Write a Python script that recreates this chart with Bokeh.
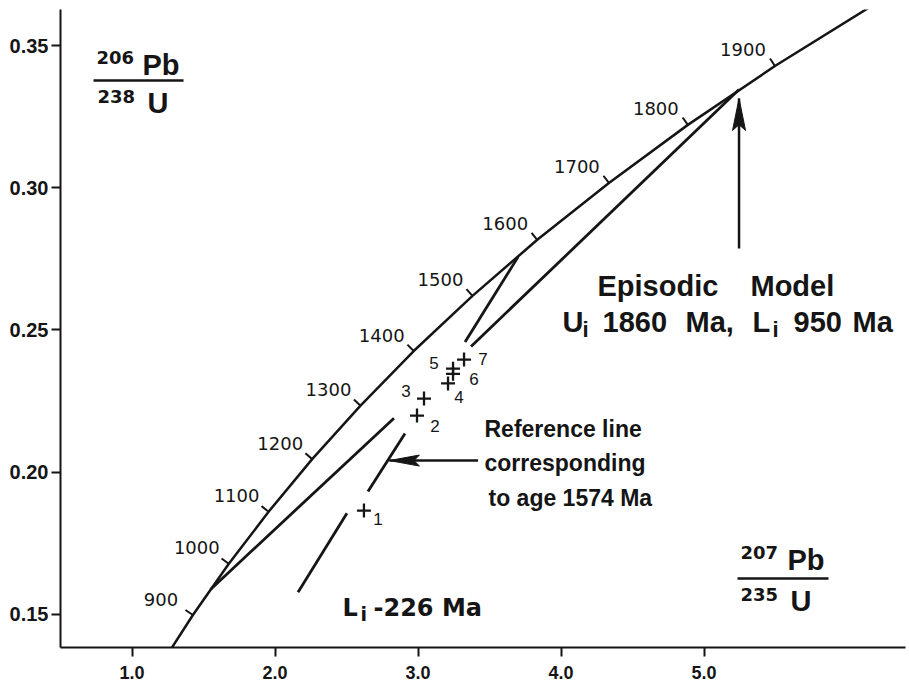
import math
from bokeh.plotting import figure
from bokeh.models import Range1d, FixedTicker, PrintfTickFormatter, Label
from bokeh.core.properties import value
from bokeh.embed import file_html
from bokeh.resources import INLINE

# ---------------- data ----------------
# concordia curve (age in Ma, 207Pb/235U, 206Pb/238U)
conc_age = [800, 900, 1000, 1100, 1200, 1300, 1400, 1500, 1600, 1700, 1800, 1900, 2000]
conc_x = [1.199, 1.426, 1.677, 1.955, 2.260, 2.598, 2.970, 3.381, 3.834, 4.335, 4.887, 5.496, 6.169]
conc_y = [0.1321, 0.1498, 0.1678, 0.1861, 0.2046, 0.2234, 0.2426, 0.2620, 0.2817, 0.3017, 0.3221, 0.3428, 0.3638]
tick_ages = [900, 1000, 1100, 1200, 1300, 1400, 1500, 1600, 1700, 1800, 1900]

# samples
sample_id = ["1", "2", "3", "4", "5", "6", "7"]
sample_x = [2.622, 2.993, 3.042, 3.210, 3.245, 3.245, 3.322]
sample_y = [0.1865, 0.2199, 0.2259, 0.2312, 0.2364, 0.2346, 0.2396]

# episodic model discordia (Ui 1860 Ma, Li 950 Ma), drawn in two pieces
episodic_x0 = [1.549, 3.371]
episodic_y0 = [0.1588, 0.2442]
episodic_x1 = [2.832, 5.245]
episodic_y1 = [0.2190, 0.3345]

# reference line for 1574 Ma, two pieces
reference_x0 = [2.650, 3.329]
reference_y0 = [0.1932, 0.2458]
reference_x1 = [2.909, 3.700]
reference_y1 = [0.2136, 0.2757]

# Li -226 Ma line piece
li226_x = [2.161, 2.503]
li226_y = [0.1578, 0.1856]

# arrows: (tail, tip)
arrow_tail_x = [3.42, 5.245]
arrow_tail_y = [0.2041, 0.2786]
arrow_tip_x = [2.80, 5.245]
arrow_tip_y = [0.2041, 0.3314]

x_ticks = [1, 2, 3, 4, 5]
y_ticks = [0.15, 0.20, 0.25, 0.30, 0.35]

# ---------------- figure ----------------
FW, FH = 845, 638
X0 = 0.5
X1 = X0 + FW / 143.0
Y0, Y1 = 0.13838, 0.36266
SX = FW / (X1 - X0)
SY = FH / (Y1 - Y0)
INK = "#151515"
FONT = "Liberation Sans"
WIDE = "DejaVu Sans"

p = figure(frame_width=FW, frame_height=FH, x_range=Range1d(X0, X1), y_range=Range1d(Y0, Y1),
           output_backend="svg", toolbar_location=None,
           min_border_left=60, min_border_right=4, min_border_top=9, min_border_bottom=41)
p.outline_line_color = None
p.grid.visible = False
p.background_fill_color = "white"
p.border_fill_color = "white"

for ax, ticks, fmt in ((p.xaxis[0], x_ticks, "%.1f"), (p.yaxis[0], y_ticks, "%.2f")):
    ax.ticker = FixedTicker(ticks=ticks)
    ax.formatter = PrintfTickFormatter(format=fmt)
    ax.axis_line_width = 2
    ax.axis_line_color = INK
    ax.major_tick_line_width = 2
    ax.major_tick_line_color = INK
    ax.major_tick_in = 0
    ax.major_tick_out = 9
    ax.minor_tick_line_color = None
    ax.major_label_text_font = FONT
    ax.major_label_text_font_style = "bold"
    ax.major_label_text_color = INK
p.xaxis.major_label_text_font_size = "18px"
p.yaxis.major_label_text_font_size = "20px"
p.xaxis.major_label_standoff = 9
p.yaxis.major_label_standoff = 3

# concordia
p.line(conc_x, conc_y, line_width=2.5, line_color=INK)

# concordia age ticks and labels
tx, ty, ang = [], [], []
for a in tick_ages:
    i = conc_age.index(a)
    dx = (conc_x[i + 1] - conc_x[i - 1]) * SX
    dy = (conc_y[i + 1] - conc_y[i - 1]) * SY
    tx.append(conc_x[i]); ty.append(conc_y[i])
    ang.append(math.atan2(dy, dx) + math.pi / 2)
p.ray(x=tx, y=ty, length=9, length_units="screen", angle=ang, line_width=2, line_color=INK)
p.text(x=tx, y=ty, text=[str(a) for a in tick_ages], x_offset=-32, y_offset=-16,
       text_align="center", text_baseline="middle", text_font=value(WIDE),
       text_font_size="18px", text_color=INK)

# discordia pieces
p.segment(episodic_x0, episodic_y0, episodic_x1, episodic_y1, line_width=2.8, line_color=INK)
p.segment(reference_x0, reference_y0, reference_x1, reference_y1, line_width=2.8, line_color=INK)
p.line(li226_x, li226_y, line_width=2.8, line_color=INK)

# sample crosses and numbers
p.scatter(sample_x, sample_y, marker="cross", size=14, line_width=2.3, line_color=INK)
lab_dx = [14, 18, -18, 11, -19, 21, 19]
lab_dy = [8, 10, -8, 14, -6, 5, -1]
p.text(x=sample_x, y=sample_y, text=sample_id, x_offset=lab_dx, y_offset=lab_dy,
       text_align="center", text_baseline="middle", text_font=value(FONT),
       text_font_size="17px", text_color=INK)

# arrows
p.segment(arrow_tail_x, arrow_tail_y, arrow_tip_x, arrow_tip_y, line_width=2.5, line_color=INK)
head_len = [30, 32]
head_half = [5.5, 6.5]
for k in range(2):
    ux = (arrow_tip_x[k] - arrow_tail_x[k]) * SX
    uy = (arrow_tip_y[k] - arrow_tail_y[k]) * SY
    n = math.hypot(ux, uy); ux /= n; uy /= n
    nx, ny = -uy, ux
    L, W, N = head_len[k], head_half[k], head_len[k] * 0.18
    pts = [(0, 0), (-L * ux + W * nx, -L * uy + W * ny), (-(L - N) * ux, -(L - N) * uy),
           (-L * ux - W * nx, -L * uy - W * ny)]
    p.patch([arrow_tip_x[k] + a / SX for a, b in pts], [arrow_tip_y[k] + b / SY for a, b in pts],
            fill_color=INK, line_color=INK, line_width=1)

# ---------------- text annotations ----------------
def px2x(px):
    return X0 + (px - 60) / SX

def px2y(py):
    return Y1 - (py - 9) / SY

ann_text = ["Episodic", "Model", "U", "i", "1860", "Ma,", "L", "i", "950", "Ma",
            "Reference line", "corresponding", "to age 1574 Ma",
            "Pb", "U", "Pb", "U"]
ann_px = [597, 750, 562, 582, 602, 685, 752, 772, 793, 852,
          484, 484, 488,
          142, 147, 787, 790]
ann_py = [285.5, 285.5, 321, 329, 321, 321, 321, 329, 321, 321,
          428, 462, 497,
          64, 102.5, 559, 600.5]
ann_size = ["29px", "29px", "29px", "22px", "29px", "29px", "29px", "22px", "29px", "29px",
            "23px", "23px", "23px",
            "29px", "29px", "29px", "29px"]
for t, xp, yp, s in zip(ann_text, ann_px, ann_py, ann_size):
    p.add_layout(Label(x=px2x(xp), y=px2y(yp), x_units="data", y_units="data", text=t,
                       text_font=FONT, text_font_style="bold", text_font_size=s,
                       text_align="left", text_baseline="middle", text_color=INK))

# "Li -226 Ma" and the mass numbers (wider lettering)
wide_text = ["L", "i", "-226 Ma", "206", "238", "207", "235"]
wide_px = [342, 360, 373, 96, 97, 740, 740]
wide_py = [607, 613, 607, 56.5, 95.5, 551.5, 593.5]
wide_size = ["24px", "19px", "24px", "18px", "18px", "18px", "18px"]
for t, xp, yp, s in zip(wide_text, wide_px, wide_py, wide_size):
    p.add_layout(Label(x=px2x(xp), y=px2y(yp), x_units="data", y_units="data", text=t,
                       text_font=WIDE, text_font_style="bold", text_font_size=s,
                       text_align="left", text_baseline="middle", text_color=INK))

# fraction bars of the axis titles
p.segment(x0=[px2x(93), px2x(737)], y0=[px2y(80), px2y(578)], x1=[px2x(183), px2x(828)],
          y1=[px2y(80), px2y(578)], line_width=2.5, line_color=INK)

open("out.html", "w").write(file_html(p, INLINE))
